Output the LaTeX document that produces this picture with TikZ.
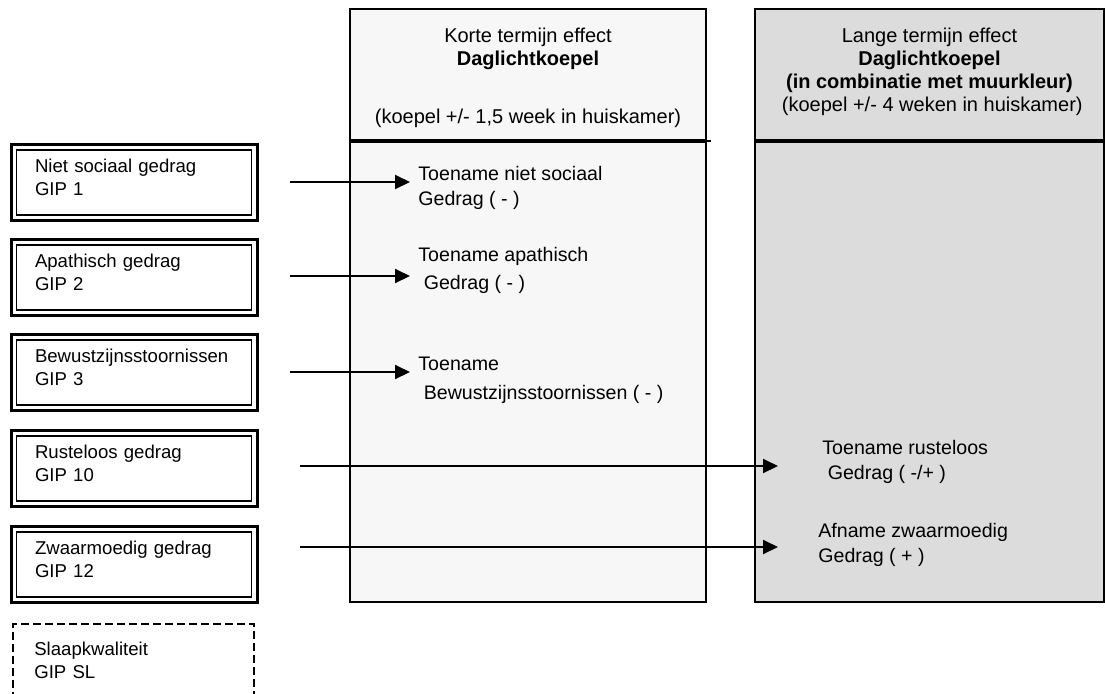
\documentclass[tikz,border=0pt]{standalone}
\usepackage{fontspec}
\setmainfont{Liberation Sans}
\usetikzlibrary{arrows.meta}

\definecolor{kortgrijs}{HTML}{F7F7F7}
\definecolor{langgrijs}{HTML}{DCDCDC}

\tikzset{
	gip/.style={draw, line width=1.5pt, minimum width=123pt, minimum height=38pt,
		text width=99pt, text depth=17pt, inner xsep=12pt, align=left, anchor=north west,
		font=\fontsize{9.3}{11.5}\selectfont,
		path picture={\draw[line width=0.8pt]
			([shift={(2.8pt,-2.8pt)}]path picture bounding box.north west) rectangle
			([shift={(-2.8pt,2.8pt)}]path picture bounding box.south east);}},
	slaap/.style={draw, line width=0.8pt, dash pattern=on 4pt off 2pt,
		minimum width=120.5pt, minimum height=37pt, text width=99pt, inner xsep=10.5pt,
		align=left, anchor=north west, font=\fontsize{9.3}{11.5}\selectfont},
	kop/.style={draw, line width=1pt, anchor=north west, minimum height=65.5pt},
	koptekst/.style={anchor=north, inner sep=0pt, align=center,
		font=\fontsize{10}{11.5}\selectfont},
	romp/.style={draw, line width=1pt, anchor=north west, minimum height=230pt},
	effect/.style={anchor=north west, inner sep=0pt, inner xsep=4pt, align=left,
		font=\fontsize{9.8}{12.5}\selectfont},
	pijl/.style={line width=1pt, -{Triangle[length=7.5pt, width=7pt]}}
}

\begin{document}
\begin{tikzpicture}[x=0.5pt, y=-0.5pt]
	\clip (0,0) rectangle (1105,693);

	% kolommen
	\node[kop, fill=kortgrijs, minimum width=178pt] (kortkop) at (349,8) {};
	\node[romp, fill=kortgrijs, minimum width=178pt] (kort) at (kortkop.south west) {};
	\draw[line width=1pt] (kortkop.south east) -- ++(4,0);
	\node[koptekst] (korttekst) at ([yshift=-10pt]kortkop.north)
		{Korte termijn effect\\\textbf{Daglichtkoepel}\\[17.5pt](koepel +/- 1,5 week in huiskamer)};
	\node[kop, fill=langgrijs, minimum width=174.5pt] (langkop) at (754,8) {};
	\node[romp, fill=langgrijs, minimum width=174.5pt] (lang) at (langkop.south west) {};
	\node[koptekst] (langtekst) at ([yshift=-10pt]langkop.north)
		{Lange termijn effect\\\textbf{Daglichtkoepel}\\\textbf{(in combinatie met muurkleur)}\\\ (koepel +/- 4 weken in huiskamer)};

	% gedrag
	\node[gip] (b1) at (9.5,143) {Niet sociaal gedrag\\GIP 1};
	\node[gip] (b2) at (9.5,238) {Apathisch gedrag\\GIP 2};
	\node[gip] (b3) at (9.5,333) {Bewustzijnsstoornissen\\GIP 3};
	\node[gip] (b4) at (9.5,429) {Rusteloos gedrag\\GIP 10};
	\node[gip] (b5) at (9.5,525) {Zwaarmoedig gedrag\\GIP 12};
	\node[slaap] (b6) at (12,623) {Slaapkwaliteit\\GIP SL};

	% effecten
	\node[effect] (e1) at (410,166) {Toename niet sociaal\\Gedrag ( - )};
	\node[effect] (e2) at (410,247) {Toename apathisch\\[1.5pt]\ Gedrag ( - )};
	\node[effect] (e3) at (410,357) {Toename\\[2pt]\ Bewustzijnsstoornissen ( - )};
	\node[effect] (e4) at (814,440) {Toename rusteloos\\\ Gedrag ( -/+ )};
	\node[effect] (e5) at (810,523) {Afname zwaarmoedig\\Gedrag ( + )};

	\coordinate (s1) at (290,182);
	\coordinate (s2) at (290,276);
	\coordinate (s3) at (290,372);
	\coordinate (s4) at (300,466);
	\coordinate (s5) at (300,547);

	\draw[pijl] (s1) -- (s1 -| e1.west);
	\draw[pijl] (s2) -- (s2 -| e2.west);
	\draw[pijl] (s3) -- (s3 -| e3.west);
	\draw[pijl, shorten >=18pt] (s4) -- (s4 -| e4.west);
	\draw[pijl, shorten >=16pt] (s5) -- (s5 -| e5.west);
\end{tikzpicture}
\end{document}
